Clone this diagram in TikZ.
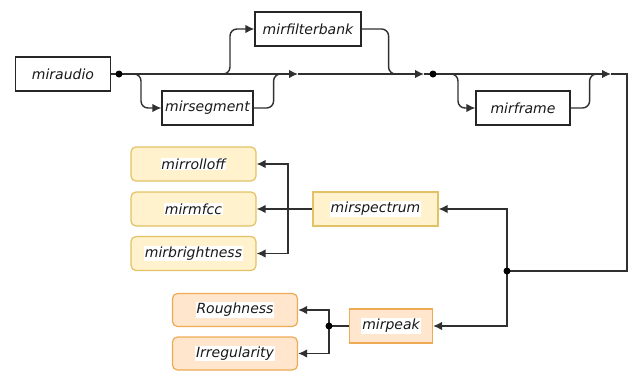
\documentclass[tikz,border=0pt]{standalone}
\usepackage{fontspec}
\setmainfont{DejaVu Sans}
\usetikzlibrary{arrows.meta}
\definecolor{yfill}{HTML}{FFF2CC}
\definecolor{yline}{HTML}{E3C265}
\definecolor{ofill}{HTML}{FFE6CC}
\definecolor{oline}{HTML}{EEAA55}
\definecolor{wire}{HTML}{303030}
\newcommand\wbg[1]{{\setlength\fboxsep{0.8pt}\colorbox{white}{#1}}}
\tikzset{
  lbl/.style={font=\fontsize{14}{16}\selectfont\itshape, text=black!90, inner sep=0pt},
  plainbox/.style={lbl, draw=black!85, line width=1.2pt, fill=white, minimum height=34pt},
  featbox/.style={lbl, draw=yline, fill=yfill, line width=1.2pt, rounded corners=5pt,
    minimum width=125pt, minimum height=34pt},
  specbox/.style={lbl, draw=yline, fill=yfill, line width=1.2pt, minimum height=34pt},
  peakfeat/.style={lbl, draw=oline, fill=ofill, line width=1.2pt, rounded corners=5pt,
    minimum width=125pt, minimum height=33pt},
  peakbox/.style={lbl, draw=oline, fill=ofill, line width=1.2pt, minimum height=34pt},
  link/.style={draw=wire, line width=1.4pt},
  arr/.style={link, -{Latex[length=9pt,width=8.5pt]}},
  jdot/.style={circle, fill=black, inner sep=0pt, minimum size=7pt},
}
\begin{document}
\begin{tikzpicture}[x=1pt, y=-1pt]
\useasboundingbox (0,0) rectangle (635,370);

% processing chain boxes
\node[plainbox, minimum width=95pt] (miraudio) at (63,74) {miraudio};
\node[plainbox, minimum width=91pt] (mirsegment) at (207.5,108) {mirsegment};
\node[plainbox, minimum width=106pt] (mirfilterbank) at (308,29) {mirfilterbank};
\node[plainbox, minimum width=94pt] (mirframe) at (523,108) {mirframe};

% spectral features
\node[specbox, minimum width=125pt] (mirspectrum) at (375.5,209) {\wbg{mirspectrum}};
\node[featbox] (mirrolloff) at (193.5,164) {\wbg{mirrolloff}};
\node[featbox] (mirmfcc) at (193.5,209) {\wbg{mirmfcc}};
\node[featbox] (mirbrightness) at (193.5,253.5) {\wbg{mirbrightness}};

% peak features
\node[peakbox, minimum width=83pt] (mirpeak) at (391,326) {\wbg{mirpeak}};
\node[peakfeat] (rough) at (235,310) {\wbg{Roughness}};
\node[peakfeat] (irreg) at (235,353.5) {\wbg{Irregularity}};

% junctions and waypoints
\coordinate (d1) at (119,74);
\coordinate (d2) at (433,74);
\coordinate (d3) at (507,271);
\coordinate (d4) at (329,326);
\coordinate (m1) at (298,74);
\coordinate (m2) at (424,74);
\coordinate (m3) at (611,74);
\coordinate (ne) at (627,74);
\coordinate (se) at (627,271);
\coordinate (s0) at (131,74);
\coordinate (s1) at (285,74);
\coordinate (f0) at (221,74);
\coordinate (f1) at (400,74);
\coordinate (r0) at (447,74);
\coordinate (r1) at (598,74);
\coordinate (sp) at (288,209);

% main line
\draw[link] (miraudio.east) -- (d1);
\draw[arr] (d1) -- (m1);
\draw[arr] (m1) -- (m2);
\draw[link] (m2) -- (d2);
\draw[arr] (d2) -- (m3);
\draw[link] (m3) -- (ne) -- (se) -- (d3);

% optional branches
\draw[arr, rounded corners=7pt] (s0) -- ++(10,0) |- (mirsegment.west);
\draw[link, rounded corners=7pt] (mirsegment.east) -- ++(20,0) |- (s1);
\draw[arr, rounded corners=7pt] (f0) -- ++(9,0) |- (mirfilterbank.west);
\draw[link, rounded corners=7pt] (mirfilterbank.east) -- ++(27,0) |- (f1);
\draw[arr, rounded corners=7pt] (r0) -- ++(11,0) |- (mirframe.west);
\draw[link, rounded corners=7pt] (mirframe.east) -- ++(19,0) |- (r1);

% feature extraction
\draw[arr] (d3) |- (mirspectrum.east);
\draw[arr] (d3) |- (mirpeak.east);
\draw[arr] (mirspectrum.west) -- (mirmfcc.east);
\draw[arr] (sp) |- (mirrolloff.east);
\draw[arr] (sp) |- (mirbrightness.east);
\draw[link] (mirpeak.west) -- (d4);
\draw[arr] (d4) |- (rough.east);
\draw[arr] (d4) |- (irreg.east);

% junction dots
\foreach \p in {d1,d2,d3,d4}
  \node[jdot] at (\p) {};
\end{tikzpicture}
\end{document}
